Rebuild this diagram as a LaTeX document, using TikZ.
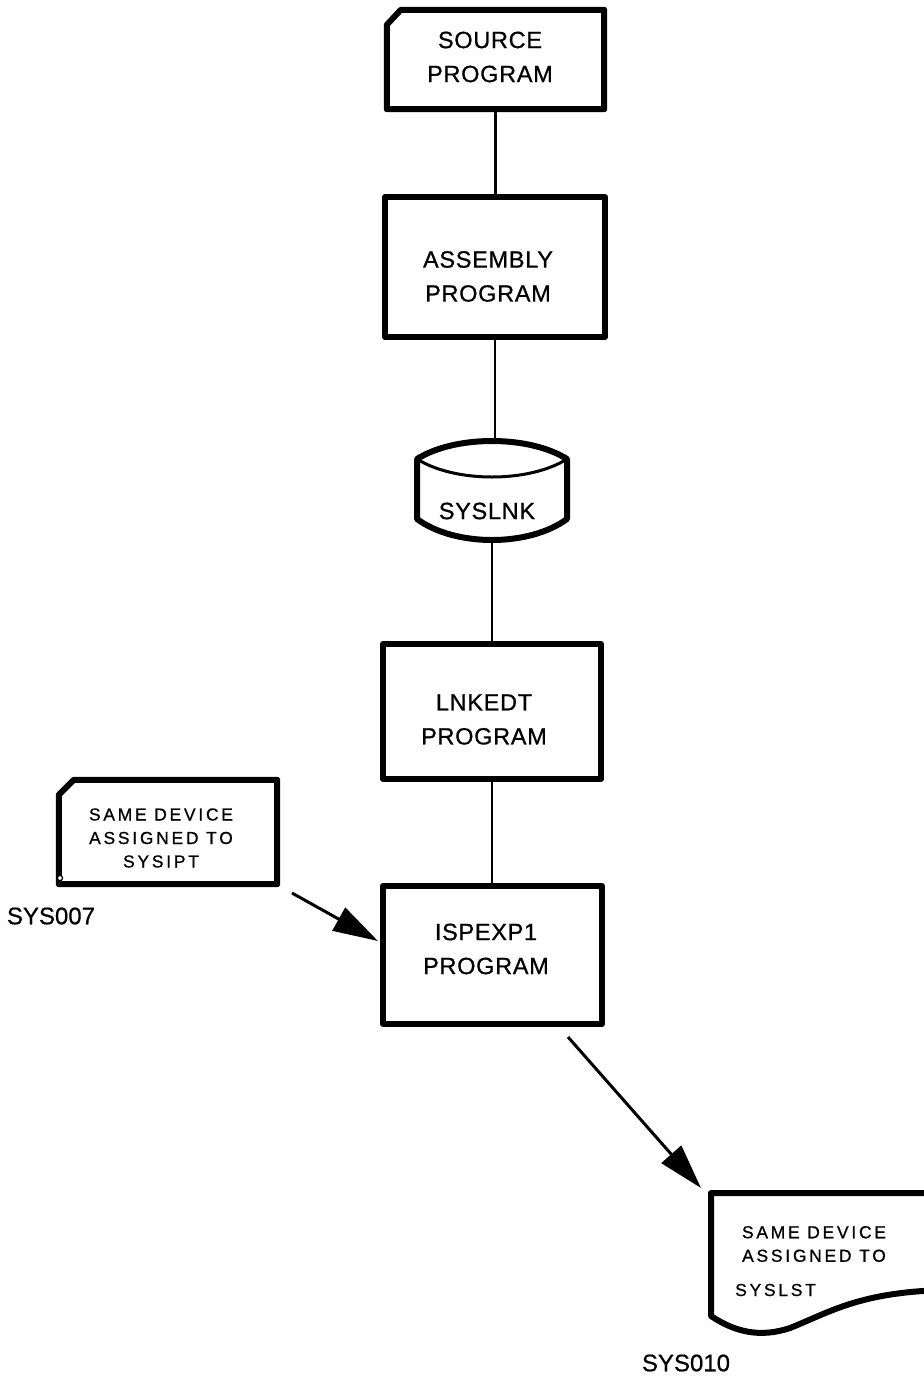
\documentclass[tikz,border=0pt]{standalone}
\usepackage{fontspec}
\setmainfont{Liberation Sans}
\usetikzlibrary{arrows.meta,calc}

\begin{document}
\begin{tikzpicture}[x=1pt,y=-1pt,
  boxline/.style={line width=6pt, line join=round},
  pbox/.style={draw, boxline, rectangle, inner sep=0pt},
  frame/.style={rectangle, inner sep=0pt, draw=none},
  bigtext/.style={font=\fontsize{23.5}{34}\selectfont\addfontfeature{LetterSpace=3,FakeBold=0.8}, align=center, inner sep=0pt},
  smalltext/.style={font=\fontsize{17.4}{23.5}\selectfont\addfontfeature{LetterSpace=16,FakeBold=0.8}, align=center, inner sep=0pt},
  tag/.style={font=\fontsize{24}{28}\selectfont\addfontfeature{FakeBold=0.6}, inner sep=0pt},
  link/.style={line width=2.5pt},
  flow/.style={line width=3pt, -{Triangle[length=45pt,width=26pt]}}
]
\path[use as bounding box, clip] (0,0) rectangle (924,1377);
\fill[white] (0,0) rectangle (924,1377);

% punched card: source program
\node[frame, minimum width=217pt, minimum height=99pt] (src) at (495.5,59.5) {};
\draw[boxline] (src.south west) -- ($(src.north west)+(0,15)$) -- ($(src.north west)+(14,0)$)
  -- (src.north east) -- (src.south east) -- cycle;
\node[bigtext] (srcT) at (490,57) {SOURCE\\PROGRAM};

% processing boxes
\node[pbox, minimum width=220pt, minimum height=140pt] (asm) at (495,267) {};
\node[bigtext] (asmT) at (488,276.5) {ASSEMBLY\\PROGRAM};

\node[pbox, minimum width=218pt, minimum height=135pt] (lnk) at (492,711.5) {};
\node[bigtext] (lnkT) at (484,719.5) {LNKEDT\\PROGRAM};

\node[pbox, minimum width=219pt, minimum height=138pt] (isp) at (492.5,955) {};
\node[bigtext] (ispT) at (486,949) {ISPEXP1\\PROGRAM};

% direct access storage: SYSLNK
\node[frame, minimum width=150pt, minimum height=101pt] (syslnk) at (492,490.5) {};
\draw[boxline] (417,459) .. controls (455,435) and (529,435) .. (567,459)
  -- (567,519) .. controls (529,547) and (455,547) .. (417,519) -- cycle;
\draw[line width=3pt] (417,459) .. controls (455,483) and (529,483) .. (567,459);
\node[bigtext] (syslnkT) at (487,511) {SYSLNK};

% punched card: SYSIPT
\node[frame, minimum width=218pt, minimum height=104pt] (ipt) at (168,832) {};
\draw[boxline] (ipt.south west) -- ($(ipt.north west)+(0,15)$) -- ($(ipt.north west)+(15,0)$)
  -- (ipt.north east) -- (ipt.south east) -- cycle;
\draw[fill=white, line width=1.2pt] (60,878) circle (2.6pt);
\node[smalltext] (iptT) at (161,838) {SAME DEVICE\\ASSIGNED TO\\SYSIPT};
\node[tag] (sys007) at (51,916) {SYS007};

% printed document: SYSLST
\node[frame, minimum width=230pt, minimum height=140pt] (doc) at (826,1262) {};
\draw[boxline] (945,1290) .. controls (860,1292) and (830,1312) .. (790,1328)
  .. controls (760,1338) and (735,1332) .. (711,1316) -- (711,1193) -- (945,1193);
\node[smalltext] (docT) at (814,1244) {SAME DEVICE\\ASSIGNED TO};
\node[smalltext, anchor=west] (docT2) at (735,1290) {SYSLST};
\node[tag] (sys010) at (686,1363) {SYS010};

% connectors
\draw[link] (src.south) -- (src.south |- asm.north);
\draw[link] (asm.south) -- (asm.south |- syslnk.north);
\draw[link] (syslnk.south) -- (syslnk.south |- lnk.north);
\draw[link] (lnk.south) -- (lnk.south |- isp.north);

\coordinate (iptOut) at (292,893);
\coordinate (ispIn) at (378,941);
\draw[flow] (iptOut) -- (ispIn);

\coordinate (ispOut) at (568,1037);
\coordinate (docIn) at (701,1188);
\draw[flow] (ispOut) -- (docIn);
\end{tikzpicture}
\end{document}
